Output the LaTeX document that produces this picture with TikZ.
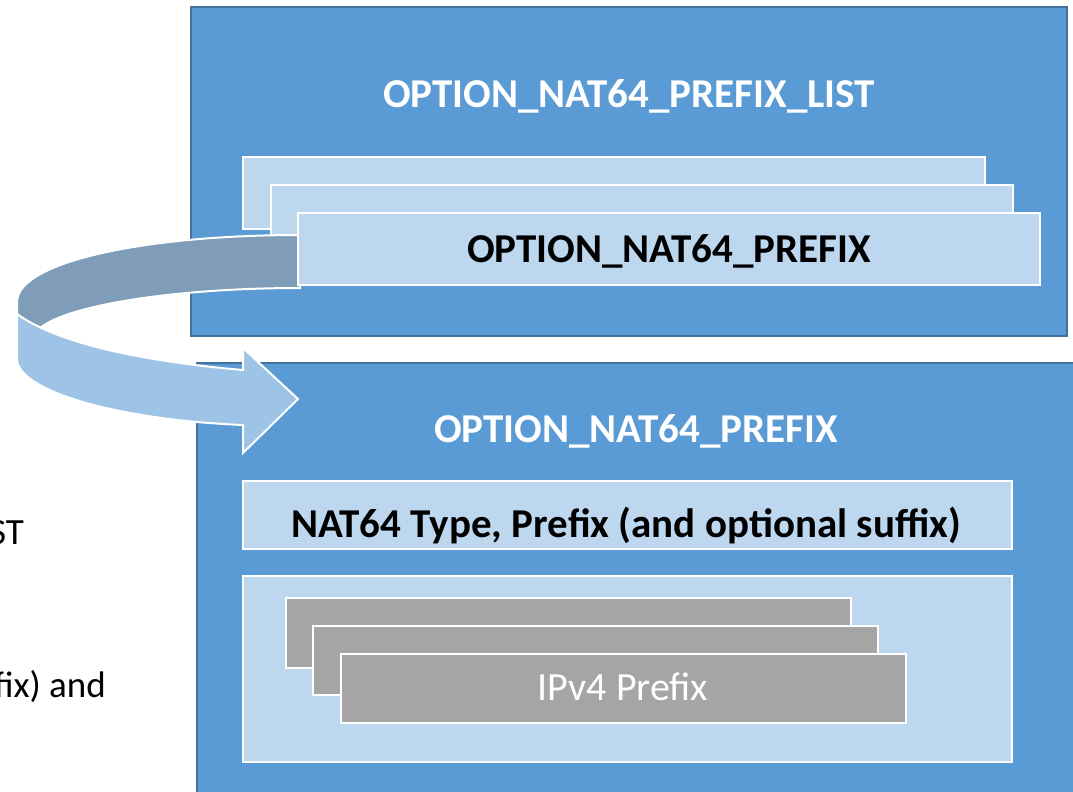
\documentclass[tikz,border=0pt]{standalone}
\usepackage{fontspec}
\setmainfont{Carlito}
\usepackage{tikz}
\usetikzlibrary{positioning}
\definecolor{OuterBlue}{RGB}{91,155,213}
\definecolor{OuterLine}{RGB}{65,113,156}
\definecolor{InnerBlue}{RGB}{189,215,238}
\definecolor{PrefixGray}{RGB}{165,165,165}
\definecolor{RibbonDark}{RGB}{127,157,185}
\definecolor{RibbonLight}{RGB}{157,195,230}
\tikzset{
  outerbox/.style={draw=OuterLine, fill=OuterBlue, line width=1.5pt, anchor=north west, inner sep=0pt, outer sep=0pt},
  innerbox/.style={draw=white, fill=InnerBlue, line width=2.5pt, anchor=north west, inner sep=0pt, outer sep=0pt},
  graybox/.style={draw=white, fill=PrefixGray, line width=2.5pt, anchor=north west, inner sep=0pt, outer sep=0pt},
  boldlabel/.style={font=\fontsize{41}{49}\selectfont\bfseries, anchor=base, inner sep=0pt},
  plainlabel/.style={font=\fontsize{40}{48}\selectfont, anchor=base, inner sep=0pt},
  sidelabel/.style={font=\fontsize{37}{44}\selectfont, anchor=base east, inner sep=0pt},
  ribbon/.style={draw=white, line width=2pt, line join=miter}
}

\begin{document}
\begin{tikzpicture}[x=1pt, y=-1pt]
      \useasboundingbox (0,0) rectangle (1073,792);
      \clip (0,0) rectangle (1073,792);

      %% text cut off at the left edge
      \node (leftst) [sidelabel] at (24,544) {ST};
      \node (leftand) [sidelabel] at (106,697) {fix) and};

      %% the list option
      \node (list) [outerbox, minimum width=876, minimum height=329] at (191,7) {};
      \node (listtitle) [boldlabel, text=white] at (629,107) {OPTION\_NAT64\_PREFIX\_LIST};
      \node (stack1) [innerbox, minimum width=742, minimum height=72] at (243,157) {};
      \node (stack2) [innerbox, minimum width=742, minimum height=72] at (271,185) {};

      %% one prefix option, opened up
      \node (prefix) [outerbox, minimum width=880, minimum height=440] at (197,363) {};
      \node (prefixtitle) [boldlabel, text=white] at (636,442) {OPTION\_NAT64\_PREFIX};
      \node (typebar) [innerbox, minimum width=769, minimum height=68] at (243,481) {};
      \node (typetext) [boldlabel] at (626,537) {NAT64 Type, Prefix (and optional suffix)};
      \node (v4list) [innerbox, minimum width=769, minimum height=186] at (243,576) {};
      \node (v4a) [graybox, minimum width=565, minimum height=70] at (286,598) {};
      \node (v4b) [graybox, minimum width=565, minimum height=69] at (313,626) {};
      \node (v4c) [graybox, minimum width=565, minimum height=69] at (341,654) {};
      \node (v4text) [plainlabel, text=white] at (623,700) {IPv4 Prefix};

      %% curved ribbon arrow
      \path[ribbon, fill=RibbonDark] (300,235) .. controls (144,235) and (17,262) .. (17,302)
        -- (17,314) .. controls (22,321) and (30,325) .. (40,328)
        .. controls (68,305) and (176,288) .. (300,288) -- cycle;
      \path[ribbon, fill=RibbonLight] (17,314) -- (17,360)
        .. controls (20,392) and (120,420) .. (243,425)
        -- (243,453) -- (298,399) -- (243,348) -- (243,370)
        .. controls (150,362) and (60,345) .. (17,314) -- cycle;

      \node (stack3) [innerbox, minimum width=742, minimum height=72] at (298,213) {};
      \node (stacktext) [boldlabel] at (669,262) {OPTION\_NAT64\_PREFIX};

    \end{tikzpicture}
\end{document}
